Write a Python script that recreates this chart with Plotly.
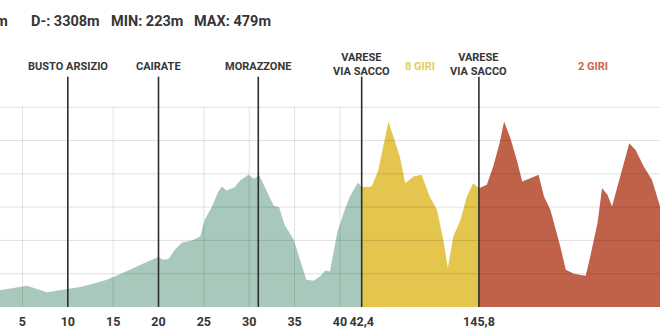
import plotly.graph_objects as go

# ---------------- data ----------------
# Section 1: start -> Varese Via Sacco (km 0 - 42.4)
green_km = [0.0, 1.5, 2.5, 3.3, 4.0, 4.7, 5.5, 6.0, 6.6, 7.7, 8.8, 9.9, 11.35, 12.8, 14.3, 15.8, 17.2,
            18.7, 20.0, 20.5, 21.1, 21.8, 22.6, 23.7, 24.6, 25.1, 25.9, 26.6, 27.0, 27.5, 28.4,
            29.0, 29.9, 30.5, 31.1, 31.8, 32.7, 33.3, 33.9, 34.9, 35.6, 36.3, 37.1, 37.8,
            38.4, 38.9, 39.7, 40.4, 41.1, 42.0, 42.4]
green_elev = [223, 224, 225, 227, 228, 230, 232, 230, 227, 222, 224.5, 227.5, 230, 235, 241, 249.5, 258.5,
              267.5, 275, 271, 272, 286, 297, 300, 306, 331, 351, 373.5, 381, 375, 380,
              390, 398.5, 392.5, 398, 378.5, 352, 350, 323.5, 301, 271, 241, 239.5, 246,
              255, 253.5, 311, 341, 366, 387, 380]

# Section 2: circuit "8 giri" (one lap shown, km 42.4 -> 145.8)
LAP_A_START = 42.4
LAP_A_END = 145.8
LAP_A_COUNT = 8
yellow_km = [42.4, 43.5, 44.2, 44.8, 45.35, 45.9, 46.6, 47.2, 48.1, 49.0, 49.9, 50.7,
             51.4, 51.9, 52.5, 53.3, 54.0, 54.7, 55.325]
yellow_elev = [380, 381, 403.5, 441, 478.5, 456, 426, 386, 396, 398.5, 366, 346,
               301, 258.5, 306, 331, 366, 386, 378.5]

# Section 3: circuit "2 giri"
red_km = [55.325, 56.2, 56.9, 57.6, 58.1, 58.8, 59.5, 60.1, 61.0, 61.9, 62.5, 63.2, 64.3,
          64.9, 65.8, 67.1, 67.6, 68.4, 68.9, 69.5, 70.0, 70.6, 71.3, 71.9, 72.6, 73.5,
          74.4, 75.3, 76.0]
red_elev = [378.5, 383.5, 411, 446, 478.5, 453.5, 421, 388.5, 393.5, 398.5, 366, 346, 291,
            256, 250, 247, 276, 326, 378.5, 368.5, 351, 381, 416, 446, 436, 411,
            391, 351, 335]

tick_km = [5, 10, 15, 20, 25, 30, 35, 40]
grid_elev = [250, 300, 350, 400, 450, 500]

towns = ["BUSTO ARSIZIO", "CAIRATE", "MORAZZONE", "VARESE<br>VIA SACCO", "VARESE<br>VIA SACCO"]
lap_a_end_display = LAP_A_START + (LAP_A_END - LAP_A_START) / LAP_A_COUNT
town_km = [10, 20, 31, 42.4, lap_a_end_display]

circuit_labels = ["8 GIRI", "2 GIRI"]
circuit_label_km = [48.8, 67.9]

stats = ["D+: 3308m", "D-: 3308m", "MIN: 223m", "MAX: 479m"]

# ---------------- style ----------------
FONT = "Roboto, Liberation Sans, sans-serif"
TXT = "#363636"
GREEN = "#a7c8ba"
YELLOW = "#e4c54e"
RED = "#c0624a"
W, H = 660, 330
MT, MB = 74, 23
PH = H - MT - MB
Y0, Y1 = 200, 550


def py_to_paper(py):
    return (H - MB - py) / PH


fig = go.Figure()
for xs, ys, col in [(green_km, green_elev, GREEN), (yellow_km, yellow_elev, YELLOW),
                    (red_km, red_elev, RED)]:
    fig.add_trace(go.Scatter(x=xs, y=ys, mode="lines", line=dict(width=0, color=col),
                             fill="tozeroy", fillcolor=col, hoverinfo="skip", showlegend=False))

shapes = []
for k in tick_km:
    shapes.append(dict(type="line", xref="x", yref="y", x0=k, x1=k, y0=Y0, y1=500,
                       line=dict(color="rgba(0,0,0,0.12)", width=1), layer="above"))
for e in grid_elev:
    shapes.append(dict(type="line", xref="paper", yref="y", x0=0, x1=1, y0=e, y1=e,
                       line=dict(color="rgba(0,0,0,0.12)", width=1), layer="above"))
for k in town_km:
    shapes.append(dict(type="line", xref="x", yref="y", x0=k, x1=k, y0=Y0, y1=546,
                       line=dict(color="#2e2e2e", width=1.6), layer="above"))

ann = []
for name, k in zip(towns, town_km):
    two = "<br>" in name
    ann.append(dict(x=k, xref="x", y=py_to_paper(64 if two else 66), yref="paper",
                    text=name, showarrow=False, xanchor="center", yanchor="middle",
                    font=dict(family=FONT, size=11, color=TXT, weight="bold")))
for lab, k, col in zip(circuit_labels, circuit_label_km, ["#e8cc5c", "#c9654e"]):
    ann.append(dict(x=k, xref="x", y=py_to_paper(66), yref="paper",
                    text=lab, showarrow=False, xanchor="center", yanchor="middle",
                    font=dict(family=FONT, size=11, color=col, weight="bold")))
stat_px = [10, 65, 147, 232]
for i, (s, px) in enumerate(zip(stats, stat_px)):
    ann.append(dict(x=px / W, xref="paper", y=py_to_paper(21), yref="paper",
                    text=s, showarrow=False,
                    xanchor="right" if i == 0 else "center", yanchor="middle",
                    font=dict(family=FONT, size=14.5, color=TXT, weight="bold")))

fig.update_layout(
    width=W, height=H,
    margin=dict(l=0, r=0, t=MT, b=MB, pad=0),
    paper_bgcolor="white", plot_bgcolor="white",
    shapes=shapes, annotations=ann,
    xaxis=dict(range=[2.525, 75.29], showgrid=False, zeroline=False, showline=False,
               tickvals=tick_km + [LAP_A_START, lap_a_end_display],
               ticktext=[str(k) for k in tick_km] + ["42,4", "145,8"],
               ticks="", ticklabelstandoff=5, tickangle=0,
               tickfont=dict(family=FONT, size=12.5, color=TXT, weight="bold"),
               automargin=False, fixedrange=True),
    yaxis=dict(range=[Y0, Y1], showgrid=False, zeroline=False, showline=False,
               showticklabels=False, automargin=False, fixedrange=True),
)

fig.write_html("out.html")
